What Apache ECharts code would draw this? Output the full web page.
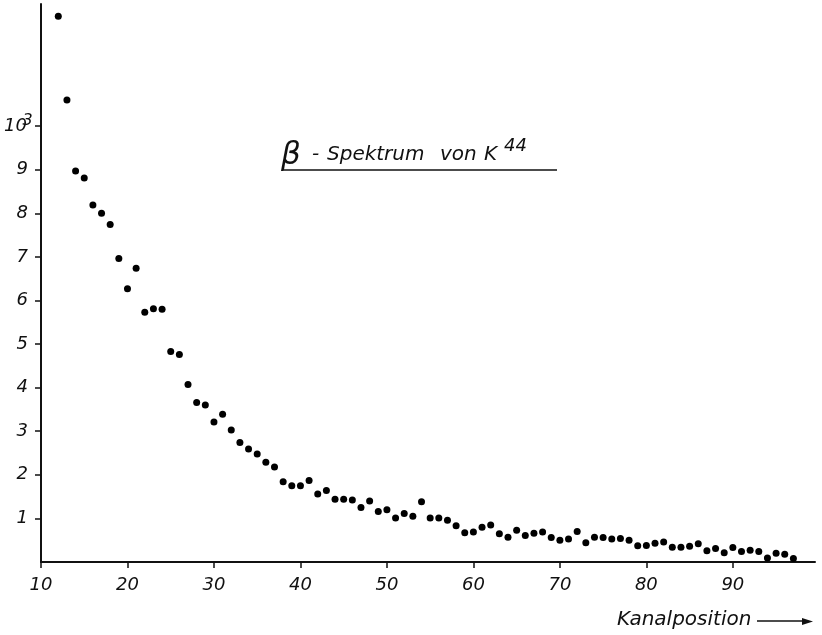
<!DOCTYPE html>
<html>
<head>
<meta charset="utf-8">
<script src="https://cdn.jsdelivr.net/npm/echarts@6/dist/echarts.min.js"></script>
<style>
  html, body { margin: 0; padding: 0; background: #fff; }
  #chart { width: 822px; height: 635px; }
</style>
</head>
<body>
<div id="chart"></div>
<script>
// Channel numbers (Kanalposition) and counts in units of 10^3
const channels = [
  12, 13, 14, 15, 16, 17, 18, 19, 20, 21, 22, 23, 24, 25, 26, 27, 28, 29, 30, 31,
  32, 33, 34, 35, 36, 37, 38, 39, 40, 41, 42, 43, 44, 45, 46, 47, 48, 49, 50, 51,
  52, 53, 54, 55, 56, 57, 58, 59, 60, 61, 62, 63, 64, 65, 66, 67, 68, 69, 70, 71,
  72, 73, 74, 75, 76, 77, 78, 79, 80, 81, 82, 83, 84, 85, 86, 87, 88, 89, 90, 91,
  92, 93, 94, 95, 96, 97
];
const counts = [
  12.52, 10.60, 8.97, 8.81, 8.19, 8.00, 7.74, 6.96, 6.27, 6.74, 5.73, 5.81, 5.80, 4.83, 4.76, 4.07, 3.66, 3.60, 3.21, 3.39,
  3.03, 2.74, 2.59, 2.48, 2.29, 2.18, 1.84, 1.75, 1.75, 1.87, 1.56, 1.64, 1.44, 1.44, 1.42, 1.25, 1.40, 1.16, 1.20, 1.01,
  1.11, 1.05, 1.38, 1.01, 1.01, 0.96, 0.83, 0.67, 0.69, 0.80, 0.85, 0.65, 0.57, 0.73, 0.61, 0.66, 0.69, 0.56, 0.50, 0.53,
  0.70, 0.44, 0.57, 0.56, 0.53, 0.54, 0.50, 0.37, 0.38, 0.43, 0.46, 0.34, 0.34, 0.36, 0.42, 0.26, 0.31, 0.21, 0.33, 0.24,
  0.27, 0.24, 0.09, 0.20, 0.18, 0.08
];
const xTicks = [10, 20, 30, 40, 50, 60, 70, 80, 90];
const yTicks = [1, 2, 3, 4, 5, 6, 7, 8, 9, 10];

const FONT = '"DejaVu Sans", sans-serif';
const INK = '#111';

// Small helper for the hand-lettered caption pieces
function word(text, x, y, size) {
  return {
    type: 'text',
    x: x,
    y: y,
    style: {
      text: text,
      fontFamily: FONT,
      fontSize: size,
      fontStyle: 'italic',
      fill: INK,
      verticalAlign: 'middle',
      align: 'left'
    }
  };
}

const chart = echarts.init(document.getElementById('chart'), null, { renderer: 'canvas' });

chart.setOption({
  backgroundColor: '#fff',
  animation: false,
  grid: { left: 41, right: 7, top: 4, bottom: 73, outerBoundsMode: 'none', containLabel: false },
  xAxis: {
    type: 'value',
    min: 10,
    max: 99.5,
    interval: 10,
    splitLine: { show: false },
    axisLine: { lineStyle: { color: INK, width: 2 } },
    axisTick: { customValues: xTicks, length: 6, inside: false, lineStyle: { color: INK, width: 1.5 } },
    axisLabel: {
      customValues: xTicks,
      margin: 14,
      color: INK,
      fontFamily: FONT,
      fontStyle: 'italic',
      fontSize: 18
    }
  },
  yAxis: {
    type: 'value',
    min: 0,
    max: 12.8,
    interval: 1,
    splitLine: { show: false },
    axisLine: { lineStyle: { color: INK, width: 2 } },
    axisTick: { customValues: yTicks, length: 6, lineStyle: { color: INK, width: 1.5 } },
    axisLabel: {
      customValues: yTicks,
      margin: 13,
      color: INK,
      fontFamily: FONT,
      fontStyle: 'italic',
      fontSize: 18,
      formatter: function (v) {
        return v === 10 ? '10{sup|3}' : String(v);
      },
      rich: {
        // the exponent tucks in against the axis line
        sup: { fontFamily: FONT, fontStyle: 'italic', fontSize: 16, color: INK, verticalAlign: 'bottom', align: 'left', width: 1, padding: [0, 0, 10, 0] }
      }
    }
  },
  series: [{
    type: 'scatter',
    data: channels.map((c, i) => [c, counts[i]]),
    symbol: 'circle',
    symbolSize: 7,
    itemStyle: { color: '#000', opacity: 1 }
  }],
  graphic: [
    word('β', 281, 156, 31),
    word('-', 312, 155, 20),
    word('Spektrum', 327, 155, 20),
    word('von', 440, 155, 20),
    word('K', 484, 155, 20),
    word('44', 504, 146, 18),
    {
      type: 'line',
      shape: { x1: 284, y1: 170, x2: 557, y2: 170 },
      style: { stroke: INK, lineWidth: 1.5 }
    },
    word('Kanalposition', 617, 620, 20),
    {
      type: 'line',
      shape: { x1: 757, y1: 621, x2: 806, y2: 621 },
      style: { stroke: INK, lineWidth: 1.5 }
    },
    {
      type: 'polygon',
      shape: { points: [[813, 621.5], [802, 618], [802, 625]] },
      style: { fill: INK }
    }
  ]
});
</script>
</body>
</html>
